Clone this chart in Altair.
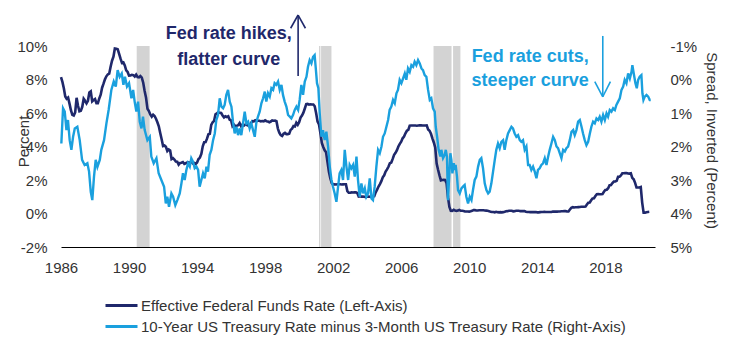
import altair as alt
import pandas as pd

NAVY = "#1F286B"
BLUE = "#1AA0DE"
GRAY = "#D3D3D3"
TXT = "#333333"
FONT = "Liberation Sans"

FF_NAME = "Effective Federal Funds Rate (Left-Axis)"
SP_NAME = "10-Year US Treasury Rate minus 3-Month US Treasury Rate (Right-Axis)"

# Effective Federal Funds Rate, monthly from Jan 1986 (percent, left axis)
ff_start_year = 1986
ff_rate = [
    8.14, 7.86, 7.48, 6.99, 6.85, 6.92, 6.56, 6.17, 5.89, 5.85, 6.04, 6.91,
    6.43, 6.10, 6.13, 6.37, 6.85, 6.73, 6.58, 6.73, 7.22, 7.29, 6.69, 6.77,
    6.83, 6.58, 6.58, 6.87, 7.09, 7.51, 7.75, 8.01, 8.19, 8.30, 8.35, 8.76,
    9.12, 9.36, 9.85, 9.84, 9.81, 9.53, 9.24, 8.99, 9.02, 8.84, 8.55, 8.45,
    8.23, 8.24, 8.28, 8.26, 8.18, 8.29, 8.15, 8.13, 8.20, 8.11, 7.81, 7.31,
    6.91, 6.25, 6.12, 5.91, 5.78, 5.90, 5.82, 5.66, 5.45, 5.21, 4.81, 4.43,
    4.03, 4.06, 3.98, 3.73, 3.82, 3.76, 3.25, 3.30, 3.22, 3.10, 3.09, 2.92,
    3.02, 3.03, 3.07, 2.96, 3.00, 3.04, 3.06, 3.03, 3.09, 2.99, 3.02, 2.96,
    3.05, 3.25, 3.34, 3.56, 4.01, 4.25, 4.26, 4.47, 4.73, 4.76, 5.29, 5.45,
    5.53, 5.92, 5.98, 6.05, 6.01, 6.00, 5.85, 5.74, 5.80, 5.76, 5.80, 5.60,
    5.56, 5.22, 5.31, 5.22, 5.24, 5.27, 5.40, 5.22, 5.30, 5.24, 5.31, 5.29,
    5.25, 5.19, 5.39, 5.51, 5.50, 5.56, 5.52, 5.54, 5.54, 5.50, 5.52, 5.50,
    5.56, 5.51, 5.49, 5.45, 5.49, 5.56, 5.54, 5.55, 5.51, 5.07, 4.83, 4.68,
    4.63, 4.76, 4.81, 4.74, 4.74, 4.76, 4.99, 5.07, 5.22, 5.20, 5.42, 5.30,
    5.45, 5.73, 5.85, 6.02, 6.27, 6.53, 6.54, 6.50, 6.52, 6.51, 6.51, 6.40,
    5.98, 5.49, 5.31, 4.80, 4.21, 3.97, 3.77, 3.65, 3.07, 2.49, 2.09, 1.82,
    1.73, 1.74, 1.73, 1.75, 1.75, 1.75, 1.73, 1.74, 1.75, 1.75, 1.34, 1.24,
    1.24, 1.26, 1.25, 1.26, 1.26, 1.22, 1.01, 1.03, 1.01, 1.01, 1.00, 0.98,
    1.00, 1.01, 1.00, 1.00, 1.00, 1.03, 1.26, 1.43, 1.61, 1.76, 1.93, 2.16,
    2.28, 2.50, 2.63, 2.79, 3.00, 3.04, 3.26, 3.50, 3.62, 3.78, 4.00, 4.16,
    4.29, 4.49, 4.59, 4.79, 4.94, 4.99, 5.24, 5.25, 5.25, 5.25, 5.25, 5.24,
    5.25, 5.26, 5.26, 5.25, 5.25, 5.25, 5.26, 5.02, 4.94, 4.76, 4.49, 4.24,
    3.94, 2.98, 2.61, 2.28, 1.98, 2.00, 2.01, 2.00, 1.81, 0.97, 0.39, 0.16,
    0.15, 0.22, 0.18, 0.15, 0.18, 0.21, 0.16, 0.16, 0.15, 0.12, 0.12, 0.12,
    0.11, 0.13, 0.16, 0.20, 0.20, 0.18, 0.18, 0.19, 0.19, 0.19, 0.19, 0.18,
    0.17, 0.16, 0.14, 0.10, 0.09, 0.09, 0.07, 0.10, 0.08, 0.07, 0.08, 0.07,
    0.08, 0.10, 0.13, 0.14, 0.16, 0.16, 0.16, 0.13, 0.14, 0.16, 0.16, 0.16,
    0.14, 0.15, 0.14, 0.15, 0.11, 0.09, 0.09, 0.08, 0.08, 0.09, 0.08, 0.09,
    0.07, 0.07, 0.08, 0.09, 0.09, 0.10, 0.09, 0.09, 0.09, 0.09, 0.09, 0.12,
    0.11, 0.11, 0.11, 0.12, 0.12, 0.13, 0.13, 0.14, 0.14, 0.12, 0.12, 0.24,
    0.34, 0.38, 0.36, 0.37, 0.37, 0.38, 0.39, 0.40, 0.40, 0.40, 0.41, 0.54,
    0.65, 0.66, 0.79, 0.90, 0.91, 1.04, 1.15, 1.16, 1.15, 1.15, 1.16, 1.30,
    1.41, 1.42, 1.51, 1.69, 1.70, 1.82, 1.91, 1.91, 1.95, 2.19, 2.20, 2.27,
    2.40, 2.40, 2.41, 2.42, 2.39, 2.38, 2.40, 2.13, 2.04, 1.83, 1.55, 1.55,
    1.55, 1.58, 0.65, 0.05, 0.05, 0.08, 0.09, 0.10,
]

# 10Y minus 3M spread (percent, right axis, inverted)
spread_year = [
    1986.02, 1986.12, 1986.22, 1986.32, 1986.41, 1986.51, 1986.61, 1986.71, 1986.81, 1986.96,
    1987.10, 1987.24, 1987.39, 1987.55, 1987.65, 1987.75, 1987.84, 1987.94, 1988.04, 1988.14,
    1988.28, 1988.37, 1988.53, 1988.67, 1988.80, 1988.96, 1989.10, 1989.22, 1989.33, 1989.45,
    1989.57, 1989.67, 1989.76, 1989.88, 1990.00, 1990.14, 1990.24, 1990.33, 1990.43, 1990.53,
    1990.63, 1990.73, 1990.82, 1990.92, 1991.08, 1991.22, 1991.31, 1991.45, 1991.61, 1991.74,
    1991.90, 1992.06, 1992.16, 1992.25, 1992.35, 1992.49, 1992.59, 1992.72, 1992.84, 1992.98,
    1993.08, 1993.17, 1993.27, 1993.37, 1993.47, 1993.57, 1993.66, 1993.76, 1993.86, 1993.96,
    1994.06, 1994.15, 1994.25, 1994.35, 1994.45, 1994.55, 1994.64, 1994.74, 1994.84, 1994.94,
    1995.04, 1995.13, 1995.23, 1995.33, 1995.43, 1995.53, 1995.62, 1995.72, 1995.82, 1995.92,
    1996.02, 1996.11, 1996.21, 1996.31, 1996.41, 1996.51, 1996.60, 1996.70, 1996.80, 1996.90,
    1997.00, 1997.09, 1997.19, 1997.29, 1997.39, 1997.49, 1997.58, 1997.68, 1997.78, 1997.88,
    1997.98, 1998.07, 1998.17, 1998.27, 1998.37, 1998.47, 1998.56, 1998.66, 1998.76, 1998.86,
    1998.96, 1999.05, 1999.15, 1999.25, 1999.35, 1999.45, 1999.54, 1999.64, 1999.74, 1999.84,
    1999.94, 2000.03, 2000.13, 2000.23, 2000.33, 2000.43, 2000.52, 2000.62, 2000.72, 2000.82,
    2000.91, 2000.97, 2001.05, 2001.13, 2001.21, 2001.31, 2001.40, 2001.50, 2001.60, 2001.70,
    2001.80, 2001.90, 2001.99, 2002.09, 2002.19, 2002.29, 2002.38, 2002.48, 2002.58, 2002.68,
    2002.78, 2002.88, 2002.97, 2003.07, 2003.17, 2003.27, 2003.37, 2003.46, 2003.56, 2003.66,
    2003.76, 2003.86, 2003.95, 2004.05, 2004.15, 2004.25, 2004.34, 2004.44, 2004.54, 2004.64,
    2004.74, 2004.84, 2004.93, 2005.03, 2005.13, 2005.23, 2005.32, 2005.42, 2005.52, 2005.62,
    2005.72, 2005.81, 2005.91, 2006.01, 2006.11, 2006.21, 2006.30, 2006.40, 2006.50, 2006.60,
    2006.70, 2006.79, 2006.89, 2006.99, 2007.09, 2007.19, 2007.28, 2007.38, 2007.48, 2007.58,
    2007.68, 2007.77, 2007.87, 2007.97, 2008.03, 2008.11, 2008.20, 2008.30, 2008.36, 2008.46,
    2008.56, 2008.62, 2008.69, 2008.75, 2008.81, 2008.89, 2008.95, 2009.01, 2009.09, 2009.15,
    2009.20, 2009.28, 2009.34, 2009.44, 2009.54, 2009.63, 2009.73, 2009.83, 2009.93, 2010.03,
    2010.13, 2010.22, 2010.32, 2010.42, 2010.52, 2010.62, 2010.71, 2010.81, 2010.91, 2011.01,
    2011.11, 2011.20, 2011.30, 2011.40, 2011.50, 2011.59, 2011.69, 2011.79, 2011.89, 2011.99,
    2012.08, 2012.18, 2012.28, 2012.38, 2012.48, 2012.57, 2012.67, 2012.77, 2012.87, 2012.97,
    2013.06, 2013.16, 2013.26, 2013.36, 2013.46, 2013.55, 2013.65, 2013.75, 2013.85, 2013.95,
    2014.04, 2014.14, 2014.24, 2014.34, 2014.44, 2014.54, 2014.64, 2014.73, 2014.83, 2014.93,
    2015.03, 2015.13, 2015.22, 2015.32, 2015.42, 2015.52, 2015.62, 2015.71, 2015.81, 2015.91,
    2016.01, 2016.11, 2016.20, 2016.30, 2016.40, 2016.50, 2016.60, 2016.69, 2016.79, 2016.89,
    2016.99, 2017.09, 2017.18, 2017.28, 2017.38, 2017.48, 2017.58, 2017.67, 2017.77, 2017.87,
    2017.97, 2018.07, 2018.16, 2018.26, 2018.36, 2018.46, 2018.56, 2018.65, 2018.75, 2018.85,
    2018.95, 2019.05, 2019.14, 2019.24, 2019.34, 2019.44, 2019.54, 2019.59, 2019.67, 2019.77,
    2019.85, 2019.93, 2020.02, 2020.12, 2020.18, 2020.24, 2020.32, 2020.42, 2020.52, 2020.61,
    2020.67,
]
spread_pct = [
    1.91, 0.86, 0.96, 1.51, 1.21, 1.81, 2.10, 1.71, 1.46, 1.41,
    1.81, 2.40, 2.55, 2.50, 2.75, 3.35, 3.60, 2.90, 2.40, 2.61,
    2.40, 2.10, 1.81, 1.31, 0.91, 0.31, 0.06, 0.21, -0.28, -0.08,
    -0.18, 0.16, -0.08, 0.21, 0.11, 0.56, 0.31, 0.66, 0.96, 0.66,
    1.26, 1.46, 1.11, 1.51, 1.81, 1.71, 2.30, 2.50, 2.35, 2.80,
    3.00, 3.20, 3.70, 3.50, 3.80, 3.40, 3.50, 3.75, 3.60, 3.40,
    3.10, 2.80, 3.00, 2.70, 2.50, 2.60, 2.35, 2.45, 2.65, 2.60,
    2.70, 3.20, 3.00, 2.80, 2.95, 2.60, 2.75, 2.25, 2.10, 1.81,
    1.61, 1.21, 1.06, 0.56, 0.81, 0.86, 0.76, 0.46, 0.31, 0.66,
    0.81, 1.26, 1.61, 1.41, 1.66, 1.46, 1.66, 1.31, 0.96, 1.31,
    1.26, 1.46, 1.31, 1.51, 1.71, 1.26, 1.11, 0.96, 0.71, 0.56,
    0.36, 0.66, 0.41, 0.51, 0.26, 0.31, 0.11, 0.16, 0.06, 0.31,
    0.16, 0.46, 0.66, 0.81, 1.06, 1.11, 1.16, 1.06, 0.91, 0.81,
    0.91, 0.61, 0.16, 0.46, 0.06, -0.08, -0.38, -0.58, -0.48, -0.68,
    -0.73, -0.38, 0.11, 0.26, 1.01, 1.71, 1.51, 1.81, 1.56, 2.00,
    2.60, 3.00, 3.20, 3.40, 3.65, 3.20, 2.80, 2.70, 3.00, 2.10,
    2.60, 3.00, 2.55, 2.65, 2.55, 2.90, 2.30, 3.00, 3.50, 3.10,
    3.40, 3.25, 3.50, 3.40, 2.95, 3.55, 3.60, 3.20, 2.60, 2.10,
    2.20, 2.00, 1.71, 1.61, 1.41, 1.21, 0.91, 0.81, 0.61, 0.71,
    0.41, 0.31, 0.01, 0.11, -0.03, -0.18, 0.01, -0.33, -0.23, -0.43,
    -0.38, -0.53, -0.43, -0.58, -0.48, -0.33, -0.28, -0.13, -0.08, 0.31,
    0.61, 0.56, 0.86, 0.96, 1.41, 1.71, 2.10, 2.30, 2.10, 2.35,
    2.25, 2.10, 2.30, 3.60, 3.00, 2.20, 2.40, 2.80, 2.50, 2.70,
    2.55, 2.90, 3.30, 3.40, 3.25, 3.20, 3.15, 3.50, 3.70, 3.50,
    3.60, 3.30, 3.00, 2.90, 2.60, 2.40, 2.35, 2.65, 3.10, 3.30,
    3.40, 3.35, 3.10, 2.75, 2.40, 2.10, 1.91, 2.05, 1.86, 1.81,
    2.10, 1.81, 1.61, 1.51, 1.41, 1.46, 1.61, 1.71, 1.66, 1.81,
    1.86, 1.81, 2.10, 2.00, 2.55, 2.55, 2.70, 2.60, 2.75, 2.95,
    2.70, 2.65, 2.55, 2.50, 2.35, 2.55, 2.30, 2.10, 1.91, 1.71,
    1.81, 2.00, 2.05, 2.20, 2.35, 2.10, 2.15, 2.05, 2.00, 1.81,
    1.56, 1.51, 1.66, 1.51, 1.26, 1.21, 1.41, 1.61, 1.81, 1.96,
    1.86, 1.61, 1.41, 1.26, 1.31, 1.16, 1.21, 1.11, 1.26, 1.06,
    1.21, 1.01, 1.11, 0.91, 0.96, 0.86, 0.91, 0.76, 0.66, 0.56,
    0.31, 0.21, 0.01, 0.11, -0.18, -0.03, -0.23, -0.43, -0.18, 0.11,
    0.26, 0.01, -0.08, -0.13, 0.41, 0.61, 0.51, 0.46, 0.51, 0.61,
    0.61,
]

# Recession shading (start, end years)
recession_start = [1990.45, 2001.17, 2001.29, 2007.90, 2009.05]
recession_end = [1991.21, 2001.25, 2001.90, 2008.96, 2009.48]

x_ticks = [1986, 1990, 1994, 1998, 2002, 2006, 2010, 2014, 2018]
left_ticks = [-2, 0, 2, 4, 6, 8, 10]
right_ticks = [-1, 0, 1, 2, 3, 4, 5]

# Annotations (year, left-axis level)
hike_text = ["Fed rate hikes,", "flatter curve"]
hike_year = [1995.86, 1995.86]
hike_level = [10.40, 8.87]
cut_text = ["Fed rate cuts,", "steeper curve"]
cut_year = [2013.58, 2013.58]
cut_level = [9.04, 7.61]

# Arrow segments: shaft and two head strokes
hike_arrow_x1 = [1999.94, 1999.94, 1999.94]
hike_arrow_y1 = [8.21, 11.85, 11.85]
hike_arrow_x2 = [1999.94, 1999.50, 2000.37]
hike_arrow_y2 = [11.85, 11.06, 11.06]
cut_arrow_x1 = [2017.85, 2017.85, 2017.85]
cut_arrow_y1 = [10.60, 6.97, 6.97]
cut_arrow_x2 = [2017.85, 2017.38, 2018.30]
cut_arrow_y2 = [6.97, 7.87, 7.87]

# ---------------------------------------------------------------
ff_df = pd.DataFrame({
    "year": [ff_start_year + i / 12 for i in range(len(ff_rate))],
    "level": ff_rate,
    "series": FF_NAME,
})
sp_df = pd.DataFrame({"year": spread_year, "spread": spread_pct, "series": SP_NAME})
rec_df = pd.DataFrame({
    "start": recession_start,
    "end": recession_end,
    "lo": left_ticks[0],
    "hi": left_ticks[-1],
})
hike_df = pd.DataFrame({"year": hike_year, "level": hike_level, "t": hike_text})
cut_df = pd.DataFrame({"year": cut_year, "level": cut_level, "t": cut_text})
hike_ar = pd.DataFrame({"x1": hike_arrow_x1, "y1": hike_arrow_y1, "x2": hike_arrow_x2, "y2": hike_arrow_y2})
cut_ar = pd.DataFrame({"x1": cut_arrow_x1, "y1": cut_arrow_y1, "x2": cut_arrow_x2, "y2": cut_arrow_y2})

x_scale = alt.Scale(domain=[1986, 2020.92], nice=False, zero=False)
x_axis = alt.Axis(
    values=x_ticks, format="d", labelFont=FONT, labelFontSize=15, labelColor=TXT,
    domain=True, domainColor="#000000", domainWidth=1, ticks=False, grid=False,
    labelPadding=13, labelFlush=False,
)
left_scale = alt.Scale(domain=[left_ticks[0], left_ticks[-1]], nice=False, zero=False)
left_axis = alt.Axis(
    values=left_ticks, labelExpr="datum.value + '%'", labelFont=FONT, labelFontSize=15,
    labelColor=TXT, domain=False, ticks=False, grid=False, labelPadding=14,
    titleFont=FONT, titleFontSize=15, titleFontWeight="normal", titleColor=TXT,
    titleAngle=270, titleX=-38, titleY=95, titleAlign="center", titleBaseline="middle",
)
right_scale = alt.Scale(domain=[right_ticks[0], right_ticks[-1]], reverse=True, nice=False, zero=False)
right_axis = alt.Axis(
    orient="right", values=right_ticks, labelExpr="datum.value + '%'", labelFont=FONT,
    labelFontSize=15, labelColor=TXT, domain=False, ticks=False, grid=False, labelPadding=15,
    titleFont=FONT, titleFontSize=15, titleFontWeight="normal", titleColor=TXT,
    titleAngle=90, titleX=56, titleY=94, titleAlign="center", titleBaseline="middle",
)

color = alt.Color(
    "series:N",
    scale=alt.Scale(domain=[FF_NAME, SP_NAME], range=[NAVY, BLUE]),
    legend=alt.Legend(
        orient="none", legendX=49, legendY=248, direction="vertical", title=None,
        symbolType="M-1.6,0H1.6", symbolSize=400, symbolStrokeWidth=3,
        labelFont=FONT, labelFontSize=15, labelColor=TXT, labelOffset=8,
        labelLimit=1000, rowPadding=1, padding=0,
    ),
)

def yl(field):
    return alt.Y(field, type="quantitative", scale=left_scale, axis=left_axis, title="Percent")

def xq(field):
    return alt.X(field, type="quantitative", scale=x_scale, axis=x_axis, title=None)

rects = alt.Chart(rec_df).mark_rect(color=GRAY).encode(
    x=xq("start"), x2="end", y=yl("lo"), y2="hi"
)
ff_line = alt.Chart(ff_df).mark_line(strokeWidth=2.6).encode(
    x=xq("year"), y=yl("level"), color=color
)
hike_arrow = alt.Chart(hike_ar).mark_rule(color=NAVY, strokeWidth=1.6).encode(
    x=xq("x1"), x2="x2", y=yl("y1"), y2="y2"
)
cut_arrow = alt.Chart(cut_ar).mark_rule(color=BLUE, strokeWidth=1.6).encode(
    x=xq("x1"), x2="x2", y=yl("y1"), y2="y2"
)
hike_label = alt.Chart(hike_df).mark_text(
    font=FONT, fontSize=18, fontWeight="bold", color=NAVY, align="center", baseline="alphabetic"
).encode(x=xq("year"), y=yl("level"), text="t:N")
cut_label = alt.Chart(cut_df).mark_text(
    font=FONT, fontSize=18, fontWeight="bold", color=BLUE, align="center", baseline="alphabetic"
).encode(x=xq("year"), y=yl("level"), text="t:N")

left_group = alt.layer(rects, ff_line, hike_arrow, cut_arrow, hike_label, cut_label)

sp_line = alt.Chart(sp_df).mark_line(strokeWidth=2.4).encode(
    x=xq("year"),
    y=alt.Y("spread:Q", scale=right_scale, axis=right_axis, title="Spread, Inverted (Percent)"),
    color=color,
)

chart = (
    alt.layer(left_group, sp_line)
    .resolve_scale(y="independent")
    .properties(
        width=594, height=201,
        padding={"left": 53, "top": 38, "right": 73, "bottom": 108},
        autosize=alt.AutoSizeParams(type="none"),
        background="white",
    )
    .configure_view(stroke=None)
)

chart.save("out.html", embed_options={"renderer": "svg", "actions": False})
